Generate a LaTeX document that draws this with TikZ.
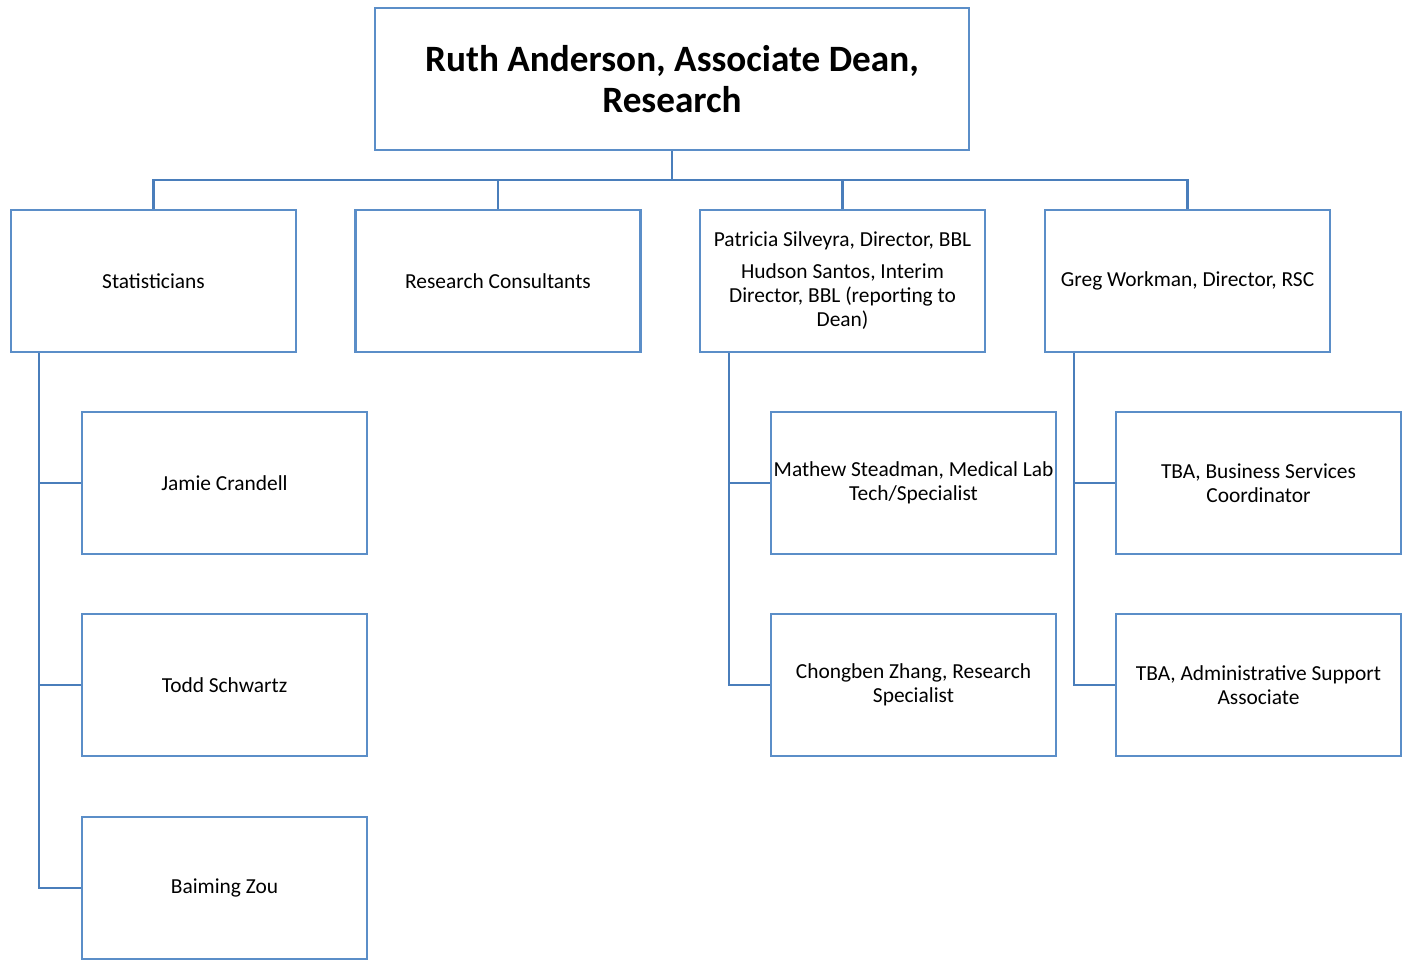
\documentclass[tikz,border=0pt]{standalone}
\usepackage{fontspec}
\setmainfont{Carlito}
\definecolor{boxblue}{HTML}{5B8EC8}
\definecolor{linkblue}{HTML}{4A7EBB}
\tikzset{
  box/.style={draw=boxblue, line width=1.3pt, fill=white, rectangle, align=center,
    minimum width=142.5pt, minimum height=71pt, inner sep=1pt,
    font=\fontsize{10.7pt}{12pt}\selectfont},
  link/.style={draw=linkblue, line width=1.3pt},
}
\begin{document}
\begin{tikzpicture}[x=0.5pt,y=-0.5pt]
\useasboundingbox (0,0) rectangle (1403,963);
% top
\node[box, minimum width=297pt, font=\fontsize{18.6pt}{20.5pt}\selectfont\bfseries] (top) at (672,79) {Ruth Anderson, Associate Dean,\\Research};
% row 2
\node[box] (stat) at (153.5,281) {Statisticians};
\node[box] (cons) at (498,281) {Research Consultants};
\node[box] (bbl) at (842.5,281) {Patricia Silveyra, Director, BBL\\[4pt]Hudson Santos, Interim\\Director, BBL (reporting to\\Dean)};
\node[box] (rsc) at (1187.5,281) {Greg Workman, Director, RSC};
% children
\node[box] (jc) at (224.5,483) {Jamie Crandell};
\node[box] (ts) at (224.5,685) {Todd Schwartz};
\node[box] (bz) at (224.5,888) {Baiming Zou};
\node[box] (ms) at (913.5,483) {Mathew Steadman, Medical Lab\\Tech/Specialist};
\node[box] (cz) at (913.5,685) {Chongben Zhang, Research\\Specialist};
\node[box] (tb1) at (1258.5,483) {TBA, Business Services\\Coordinator};
\node[box] (tb2) at (1258.5,685) {TBA, Administrative Support\\Associate};
% top connectors
\coordinate (bus) at (672,180);
\draw[link] (top.south) -- (bus);
\draw[link] (stat.north) |- (bus);
\draw[link] (cons.north) |- (bus);
\draw[link] (bbl.north) |- (bus);
\draw[link] (rsc.north) |- (bus);
% statisticians children
\draw[link] (stat.south -| 39,0) -- (39,888) -- (bz.west);
\draw[link] (39,483) -- (jc.west);
\draw[link] (39,685) -- (ts.west);
% bbl children
\draw[link] (bbl.south -| 729,0) -- (729,685) -- (cz.west);
\draw[link] (729,483) -- (ms.west);
% rsc children
\draw[link] (rsc.south -| 1074,0) -- (1074,685) -- (tb2.west);
\draw[link] (1074,483) -- (tb1.west);
\end{tikzpicture}
\end{document}
